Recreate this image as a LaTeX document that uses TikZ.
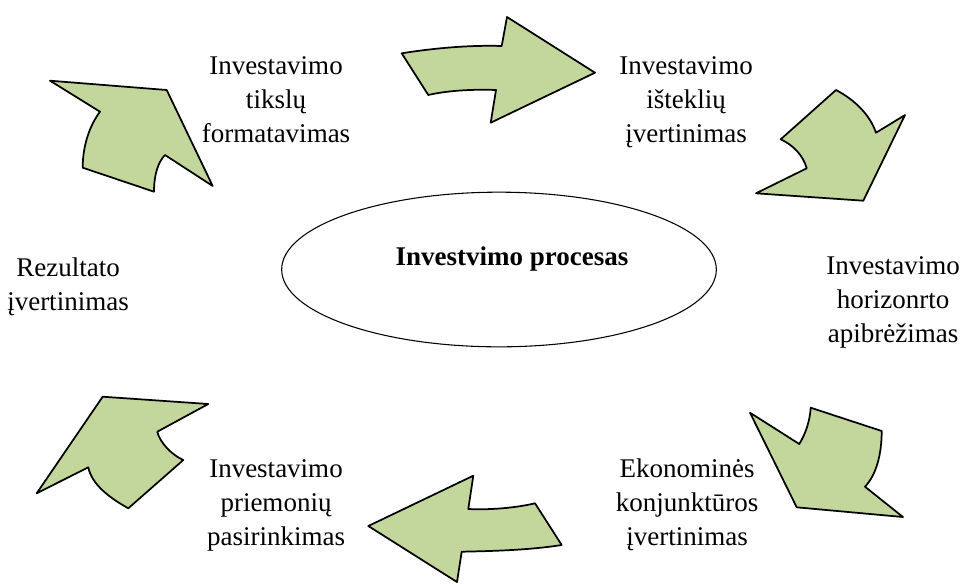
\documentclass[tikz,border=0pt]{standalone}
\usepackage{fontspec}
\setmainfont{Liberation Serif}
\usetikzlibrary{shapes.geometric}
\definecolor{arrowgreen}{RGB}{195,214,155}
\tikzset{
  bigarrow/.style={draw=black, fill=arrowgreen, line width=1.3pt, line join=round},
  steptext/.style={align=center, inner sep=0pt, anchor=base, font=\fontsize{20.25pt}{25.5pt}\selectfont},
}
\begin{document}
\begin{tikzpicture}[x={(0.75pt,0pt)},y={(0pt,-0.75pt)}]
\useasboundingbox (0,0) rectangle (960,583);
% centre
\node[draw=black, line width=0.8pt, ellipse, minimum width=326pt, minimum height=116pt] (process) at (499,269.5) {};
\node[anchor=base, inner sep=0pt, font=\fontsize{20.25pt}{25.5pt}\selectfont\bfseries] (processtext) at (512,265) {Investvimo procesas};
% steps (placed at the baseline of the last line)
\node[steptext] (goals) at (276,142) {Investavimo\\tiksl\k{u}\\formatavimas};
\node[steptext] (resources) at (686,142) {Investavimo\\i\v{s}tekli\k{u}\\\k{i}vertinimas};
\node[steptext] (horizon) at (893,342) {Investavimo\\horizonrto\\apibr\.{e}\v{z}imas};
\node[steptext] (economy) at (687,545) {Ekonomin\.{e}s\\konjunkt\={u}ros\\\k{i}vertinimas};
\node[steptext] (instruments) at (276,545) {Investavimo\\priemoni\k{u}\\pasirinkimas};
\node[steptext] (result) at (68,310) {Rezultato\\\k{i}vertinimas};
% arrows
\filldraw[bigarrow] (401.7,53.3) .. controls (435,48) and (470,45) .. (501.7,46) -- (507,17) -- (595,72.7) -- (490.7,122.7) -- (496,90) .. controls (470,89) and (445,91) .. (428.3,95) -- cycle;
\filldraw[bigarrow] (836,90) .. controls (855,100) and (870,115) .. (876,132.7) -- (905,115) -- (863.3,200.7) -- (756,193.3) -- (806.7,168.3) .. controls (803,155) and (793,145) .. (780.7,139.3) -- cycle;
\filldraw[bigarrow] (50,80.7) -- (166.7,90) -- (212.7,186) -- (165,155) .. controls (158,162) and (154,175) .. (154,191.7) -- (82.7,167.7) .. controls (82.7,145) and (90,125) .. (100,111.7) -- cycle;
\filldraw[bigarrow] (750,412.7) -- (799.3,444) .. controls (806,433) and (810,420) .. (810.7,407.7) -- (881.7,431) .. controls (881.7,455) and (876,475) .. (865,486.7) -- (903,517) -- (796.7,507.3) -- cycle;
\filldraw[bigarrow] (473.3,475.7) -- (468.3,509) .. controls (490,510) and (515,508) .. (535,503.3) -- (561.7,545) .. controls (530,550) and (495,551) .. (461.7,551.7) -- (457,582) -- (368.3,526) -- cycle;
\filldraw[bigarrow] (102.7,396.7) -- (208.3,404) -- (157.3,431.7) .. controls (160,443) and (172,455) .. (183.3,460) -- (128.3,508.3) .. controls (110,498) and (92,485) .. (88.3,467.3) -- (36.7,493.3) -- cycle;
\end{tikzpicture}
\end{document}
